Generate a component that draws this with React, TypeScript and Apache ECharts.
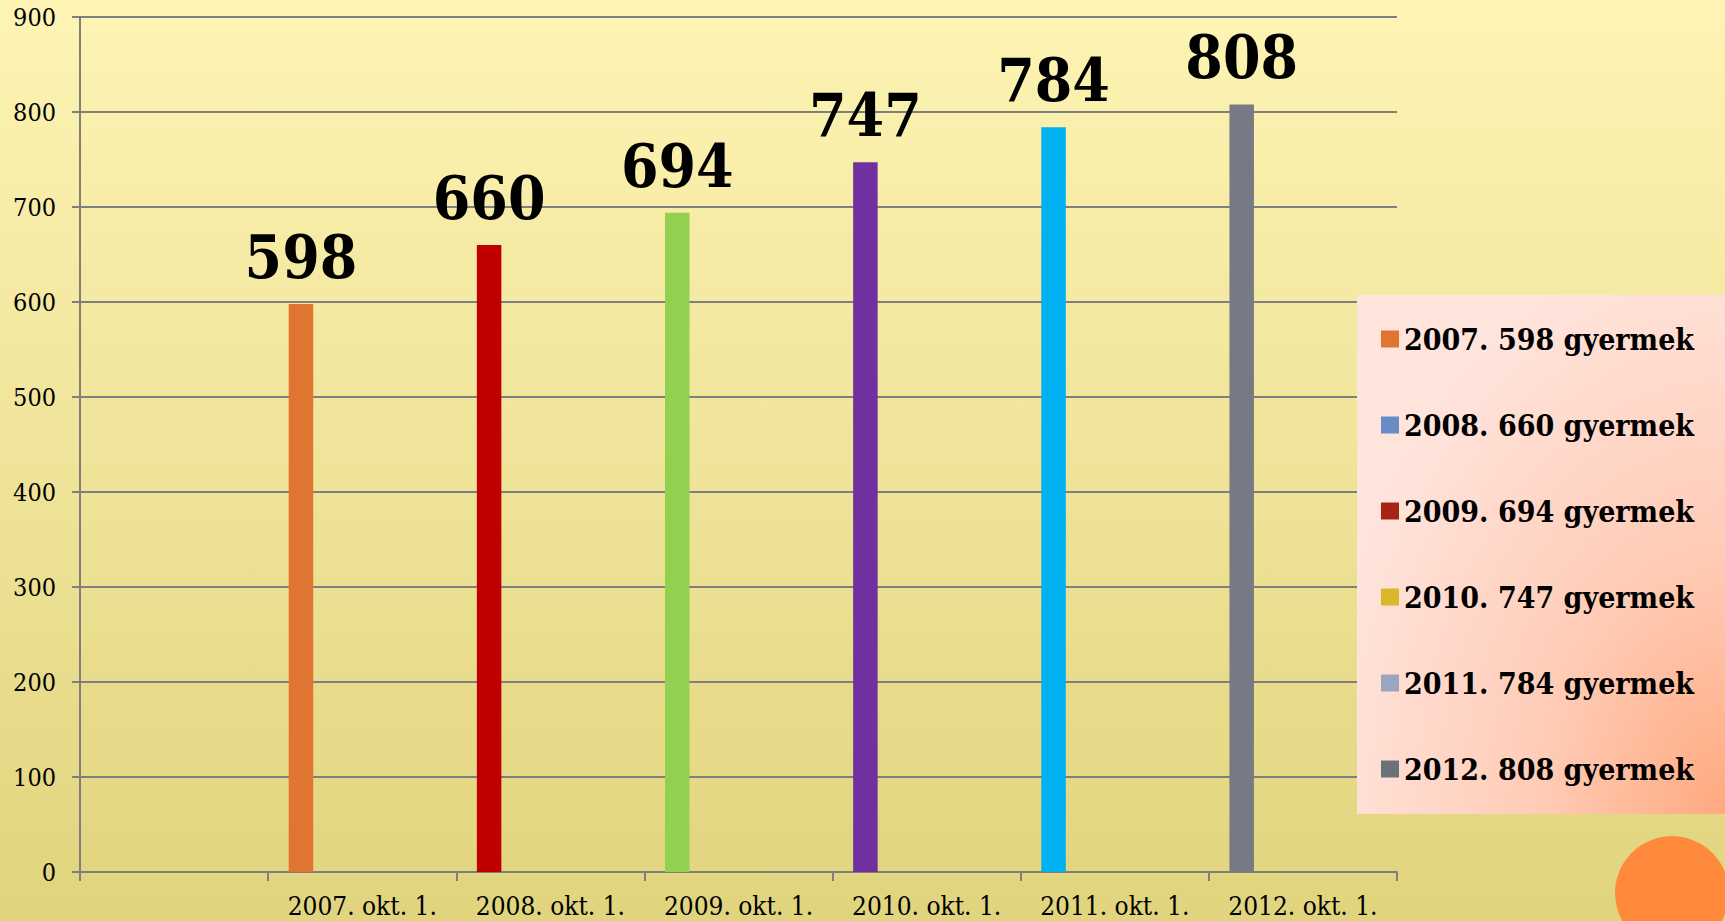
import React, { useEffect, useRef } from "react";
import * as echarts from "echarts";

const categories = ["", "2007. okt. 1.", "2008. okt. 1.", "2009. okt. 1.", "2010. okt. 1.", "2011. okt. 1.", "2012. okt. 1."];
const values: (number | null)[] = [null, 598, 660, 694, 747, 784, 808];
const barColors = ["#E07431", "#E07431", "#C00000", "#92D050", "#7030A0", "#00B0F0", "#777A84"];
const legendNames = ["2007. 598 gyermek", "2008. 660 gyermek", "2009. 694 gyermek", "2010. 747 gyermek", "2011. 784 gyermek", "2012. 808 gyermek"];
const legendColors = ["#E07431", "#6A8CC6", "#A52416", "#D9B82B", "#9AA6C0", "#6C7079"];
const yMin = 0;
const yMax = 900;
const yInterval = 100;

const FONT = "'DejaVu Serif Condensed', 'Liberation Serif', serif";

export default function App() {
  const ref = useRef<HTMLDivElement>(null);
  useEffect(() => {
    if (!ref.current) return;
    const chart = echarts.init(ref.current, null, { renderer: "svg" });
    const series: any[] = legendNames.map((name, i) => ({
      name,
      type: "bar",
      barWidth: 24.5,
      barGap: "0%",
      itemStyle: { color: legendColors[i] },
      data:
        i === 0
          ? values.map((v, k) => (v == null ? null : { value: v, itemStyle: { color: barColors[k] } }))
          : categories.map(() => null),
      label:
        i === 0
          ? {
              show: true,
              position: "top",
              distance: 17,
              fontFamily: FONT,
              fontWeight: "bold",
              fontSize: 60,
              color: "#000",
            }
          : { show: false },
    }));
    chart.setOption({
      animation: false,
      backgroundColor: new echarts.graphic.LinearGradient(0, 0, 0, 1, [
        { offset: 0, color: "#FEF4B4" },
        { offset: 1, color: "#E1D47E" },
      ]),
      grid: { left: 80, top: 17, width: 1317, height: 855, containLabel: false },
      xAxis: {
        type: "category",
        data: categories,
        boundaryGap: true,
        axisLine: { show: true, lineStyle: { color: "#7F7F7F", width: 2 } },
        axisTick: { show: true, length: 9, lineStyle: { color: "#7F7F7F", width: 2 } },
        axisLabel: { fontFamily: FONT, fontSize: 26, color: "#000", margin: 21, interval: 0 },
        splitLine: { show: false },
      },
      yAxis: {
        type: "value",
        min: yMin,
        max: yMax,
        interval: yInterval,
        axisLine: { show: true, lineStyle: { color: "#7F7F7F", width: 2 } },
        axisTick: { show: true, length: 8, lineStyle: { color: "#7F7F7F", width: 2 } },
        axisLabel: { fontFamily: FONT, fontSize: 25, color: "#000", margin: 24 },
        splitLine: { show: true, lineStyle: { color: "#7F7F7F", width: 2 } },
      },
      legend: {
        show: true,
        orient: "vertical",
        left: 1381,
        top: 322,
        padding: 0,
        itemWidth: 18,
        itemHeight: 17,
        itemGap: 52,
        icon: "rect",
        z: 20,
        data: legendNames,
        textStyle: { fontFamily: FONT, fontWeight: "bold", fontSize: 30, color: "#000", lineHeight: 34 },
      },
      graphic: [
        {
          type: "rect",
          z: 10,
          shape: { x: 1357, y: 295, width: 368, height: 519 },
          style: {
            fill: new echarts.graphic.RadialGradient(1, 1, 1.1, [
              { offset: 0, color: "#FFA97F" },
              { offset: 0.45, color: "#FFCBB5" },
              { offset: 1, color: "#FFE4DC" },
            ]),
          },
        },
        {
          type: "circle",
          z: 10,
          shape: { cx: 1672, cy: 893, r: 57 },
          style: { fill: "#FF8A3C" },
        },
      ],
      series,
    });
    return () => chart.dispose();
  }, []);
  return <div ref={ref} style={{ position: "absolute", left: 0, top: 0, width: 1725, height: 921 }} />;
}
